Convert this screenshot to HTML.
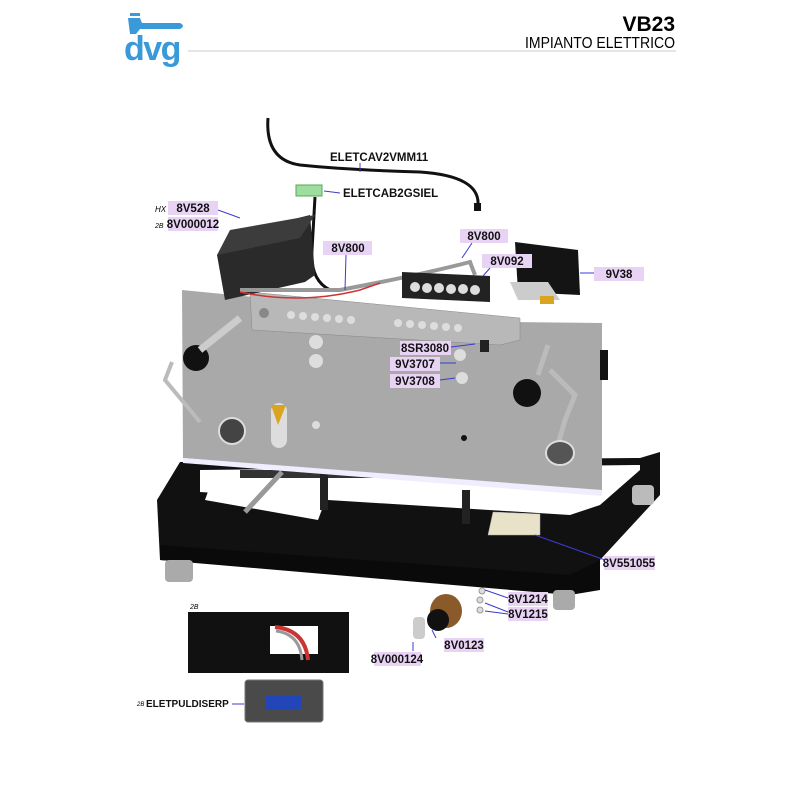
<!DOCTYPE html>
<html><head><meta charset="utf-8"><style>
html,body{margin:0;padding:0;background:#fff}
svg{display:block}
text{font-family:"Liberation Sans",sans-serif}
.l{fill:#e9d3f5}
.t{font-size:11.5px;font-weight:bold;fill:#111}
.a{stroke:#3b3bd0;stroke-width:1;fill:none}
</style></head><body>
<svg width="800" height="800" viewBox="0 0 800 800" xmlns="http://www.w3.org/2000/svg">
<!-- header -->
<g fill="#3a9ad9">
<rect x="130" y="13" width="10" height="3"/>
<path d="M128 18 h12 l2 5 h38 q6 3 0 6 h-40 l-4 5 h-6z"/>
</g>
<text x="124" y="60" font-size="34" font-weight="bold" fill="#3a9ad9" letter-spacing="-1.5">dvg</text>
<line x1="188" y1="51" x2="676" y2="51" stroke="#ccc" stroke-width="1"/>
<text x="675" y="31" font-size="21" font-weight="bold" text-anchor="end">VB23</text>
<text x="525" y="48" font-size="16" textLength="150" lengthAdjust="spacingAndGlyphs">IMPIANTO ELETTRICO</text>

<!-- cable top -->
<path d="M268 118 Q265 160 300 165 Q350 170 420 172 Q480 176 478 205" stroke="#111" stroke-width="3" fill="none"/>
<rect x="474" y="203" width="7" height="8" fill="#111"/>
<path d="M315 197 L312 250 Q310 280 330 290" stroke="#111" stroke-width="3" fill="none"/>
<rect x="296" y="185" width="26" height="11" fill="#9fdc9f" stroke="#5a5" stroke-width="1"/>

<!-- black frame -->
<polygon points="180,462 640,458 660,452 660,495 600,560 600,590 160,560 157,500" fill="#111"/>
<polygon points="200,492 570,515 600,505 640,470 640,465 200,470" fill="#fff"/>
<polygon points="210,486 330,488 318,520 205,500" fill="#fff"/>
<rect x="240" y="470" width="330" height="8" fill="#333"/>
<line x1="245" y1="512" x2="282" y2="472" stroke="#999" stroke-width="5"/>
<rect x="320" y="468" width="8" height="42" fill="#222"/>
<rect x="462" y="490" width="8" height="34" fill="#222"/>
<polygon points="160,545 570,575 600,560 600,590 570,595 160,560" fill="#0a0a0a"/>
<polygon points="493,512 540,514 540,535 488,535" fill="#e8e2c8" stroke="#aaa" stroke-width="0.5"/>
<rect x="165" y="560" width="28" height="22" fill="#aaa" rx="4"/>
<rect x="553" y="590" width="22" height="20" fill="#aaa" rx="4"/>
<rect x="632" y="485" width="22" height="20" fill="#bbb" rx="4"/>

<!-- gray panel -->
<polygon points="182,290 510,322 602,323 602,492 183,458" fill="#a9a9a9"/>
<polygon points="183,458 602,490 602,496 183,463" fill="#eef"/>
<polygon points="250,292 520,318 520,340 500,345 252,330" fill="#b8b8b8" stroke="#888" stroke-width="0.5"/>
<g fill="#ddd">
<circle cx="291" cy="315" r="4"/><circle cx="303" cy="316" r="4"/><circle cx="315" cy="317" r="4"/><circle cx="327" cy="318" r="4"/><circle cx="339" cy="319" r="4"/><circle cx="351" cy="320" r="4"/>
<circle cx="398" cy="323" r="4"/><circle cx="410" cy="324" r="4"/><circle cx="422" cy="325" r="4"/><circle cx="434" cy="326" r="4"/><circle cx="446" cy="327" r="4"/><circle cx="458" cy="328" r="4"/>
<circle cx="316" cy="342" r="7"/><circle cx="316" cy="361" r="7"/>
<circle cx="460" cy="355" r="6"/><circle cx="462" cy="378" r="6"/>
</g>
<circle cx="264" cy="313" r="5" fill="#888"/>
<rect x="480" y="340" width="9" height="12" fill="#222"/>
<circle cx="196" cy="358" r="13" fill="#111"/>
<circle cx="527" cy="393" r="14" fill="#111"/>
<path d="M200 350 L240 318" stroke="#ccc" stroke-width="7"/>
<path d="M172 362 L165 380 L200 422" stroke="#bbb" stroke-width="4" fill="none"/>
<path d="M538 375 L548 345 M550 370 L575 395 L565 420 L555 455" stroke="#bbb" stroke-width="5" fill="none"/>
<circle cx="232" cy="431" r="13" fill="#444" stroke="#ddd" stroke-width="2"/>
<ellipse cx="560" cy="453" rx="14" ry="12" fill="#555" stroke="#ddd" stroke-width="2"/>
<rect x="271" y="403" width="16" height="45" rx="8" fill="#ddd"/>
<path d="M271 405 h15 l-8 20z" fill="#d9a520"/>
<circle cx="316" cy="425" r="4" fill="#ddd"/>
<circle cx="464" cy="438" r="3" fill="#111"/>
<rect x="600" y="350" width="8" height="30" fill="#111"/>

<!-- box 8V528 -->
<polygon points="230,235 310,215 315,275 305,282 225,300 217,255" fill="#2a2a2a"/>
<polygon points="217,255 300,238 315,215 230,230" fill="#3c3c3c"/>
<path d="M240 290 Q300 290 340 290 Q420 275 470 262 L475 275" stroke="#999" stroke-width="4" fill="none"/>
<path d="M240 292 Q300 305 360 290 L380 283" stroke="#c33" stroke-width="1.5" fill="none"/>
<polygon points="402,272 490,276 490,302 402,298" fill="#222"/>
<g fill="#ddd"><circle cx="415" cy="287" r="5"/><circle cx="427" cy="288" r="5"/><circle cx="439" cy="288" r="5"/><circle cx="451" cy="289" r="5"/><circle cx="463" cy="289" r="5"/><circle cx="475" cy="290" r="5"/></g>
<polygon points="515,242 578,250 580,295 518,292" fill="#141414"/>
<polygon points="510,282 548,282 560,300 518,300" fill="#ccc"/>
<rect x="540" y="296" width="14" height="8" fill="#d9a520"/>

<!-- inset 2B -->
<text x="190" y="609" font-size="7" font-style="italic">2B</text>
<rect x="188" y="612" width="161" height="61" fill="#111"/>
<rect x="270" y="626" width="48" height="28" fill="#fff"/>
<path d="M275 627 Q305 630 308 660" stroke="#c33" stroke-width="4" fill="none"/>
<path d="M276 631 Q300 634 302 660" stroke="#999" stroke-width="3" fill="none"/>
<rect x="245" y="680" width="78" height="42" rx="3" fill="#4a4a4a" stroke="#777"/>
<rect x="265" y="696" width="36" height="14" fill="#2246b8"/>
<text x="137" y="706" font-size="6" font-style="italic">2B</text>
<text x="146" y="707" class="t" style="font-size:10px">ELETPULDISERP</text>
<line x1="232" y1="704" x2="244" y2="704" class="a"/>

<ellipse cx="446" cy="611" rx="16" ry="17" fill="#8a5a2a"/>
<ellipse cx="438" cy="620" rx="11" ry="11" fill="#111"/>
<rect x="413" y="617" width="12" height="22" rx="4" fill="#ccc"/>
<g fill="#ddd" stroke="#999"><circle cx="482" cy="591" r="3"/><circle cx="480" cy="600" r="3"/><circle cx="480" cy="610" r="3"/></g>

<!-- labels -->
<text x="330" y="161" class="t">ELETCAV2VMM11</text>
<text x="343" y="197" class="t">ELETCAB2GSIEL</text>
<line x1="340" y1="193" x2="324" y2="191" class="a"/>
<line x1="360" y1="163" x2="360" y2="172" class="a"/>
<text x="155" y="212" font-size="8" font-style="italic">HX</text>
<rect x="168" y="201" width="50" height="14" class="l"/><text x="193" y="212" class="t" text-anchor="middle">8V528</text>
<text x="155" y="228" font-size="7" font-style="italic">2B</text>
<rect x="168" y="217" width="50" height="14" class="l"/><text x="193" y="228" class="t" text-anchor="middle">8V000012</text>
<line x1="218" y1="210" x2="240" y2="218" class="a"/>
<rect x="323" y="241" width="49" height="14" class="l"/><text x="348" y="252" class="t" text-anchor="middle">8V800</text>
<line x1="346" y1="255" x2="345" y2="290" class="a"/>
<rect x="460" y="229" width="48" height="14" class="l"/><text x="484" y="240" class="t" text-anchor="middle">8V800</text>
<line x1="472" y1="243" x2="462" y2="258" class="a"/>
<rect x="482" y="254" width="50" height="14" class="l"/><text x="507" y="265" class="t" text-anchor="middle">8V092</text>
<line x1="490" y1="268" x2="483" y2="276" class="a"/>
<rect x="594" y="267" width="50" height="14" class="l"/><text x="619" y="278" class="t" text-anchor="middle">9V38</text>
<line x1="594" y1="273" x2="580" y2="273" class="a"/>
<rect x="400" y="341" width="51" height="14" class="l"/><text x="425" y="352" class="t" text-anchor="middle">8SR3080</text>
<line x1="451" y1="347" x2="475" y2="344" class="a"/>
<rect x="390" y="357" width="50" height="14" class="l"/><text x="415" y="368" class="t" text-anchor="middle">9V3707</text>
<line x1="440" y1="363" x2="456" y2="363" class="a"/>
<rect x="390" y="374" width="50" height="14" class="l"/><text x="415" y="385" class="t" text-anchor="middle">9V3708</text>
<line x1="440" y1="380" x2="455" y2="378" class="a"/>
<rect x="604" y="556" width="51" height="14" class="l"/><text x="629" y="567" class="t" text-anchor="middle">8V551055</text>
<line x1="605" y1="560" x2="535" y2="535" class="a"/>
<rect x="508" y="592" width="40" height="14" class="l"/><text x="528" y="603" class="t" text-anchor="middle">8V1214</text>
<rect x="508" y="607" width="40" height="14" class="l"/><text x="528" y="618" class="t" text-anchor="middle">8V1215</text>
<line x1="508" y1="598" x2="485" y2="590" class="a"/>
<line x1="508" y1="612" x2="485" y2="603" class="a"/>
<line x1="508" y1="614" x2="485" y2="611" class="a"/>
<rect x="444" y="638" width="40" height="14" class="l"/><text x="464" y="649" class="t" text-anchor="middle">8V0123</text>
<line x1="436" y1="638" x2="432" y2="630" class="a"/>
<rect x="374" y="652" width="47" height="14" class="l"/><text x="397" y="663" class="t" text-anchor="middle">8V000124</text>
<line x1="413" y1="651" x2="413" y2="642" class="a"/>
</svg>
</body></html>
